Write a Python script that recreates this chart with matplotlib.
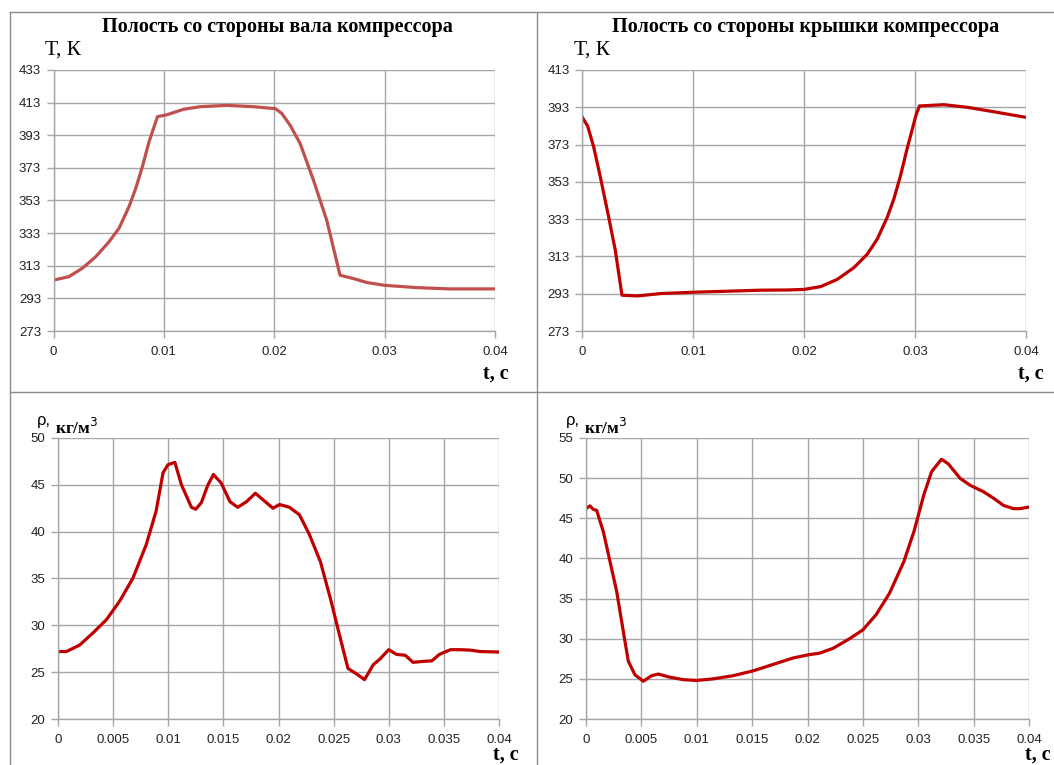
import matplotlib
matplotlib.use("Agg")
import matplotlib.pyplot as plt
from matplotlib.lines import Line2D

W, H = 1054, 765

# top-left: temperature, shaft side
t1 = [0, 0.00139, 0.0026, 0.00382, 0.00503, 0.00593, 0.00684, 0.00745, 0.00805, 0.00866,
      0.00942, 0.0103, 0.01177, 0.01328, 0.0157, 0.0181, 0.0201, 0.02068, 0.02143, 0.02234,
      0.02355, 0.02475, 0.02596, 0.0272, 0.0284, 0.0300, 0.0329, 0.0359, 0.04]
T1 = [304.2, 306.3, 311.4, 318.5, 327.7, 335.9, 349.2, 360.4, 373.7, 389.1,
      404.4, 405.6, 408.9, 410.5, 411.3, 410.5, 409.3, 406.4, 399.2, 388.0,
      365.5, 341.0, 307.2, 305.1, 302.7, 301.0, 299.6, 298.8, 298.8]

# top-right: temperature, cover side
t2 = [0, 0.00051, 0.00105, 0.00165, 0.0024, 0.003, 0.0036, 0.005, 0.0071, 0.0101, 0.0161,
      0.0185, 0.02, 0.0215, 0.023, 0.0245, 0.0257, 0.0266, 0.0275, 0.0281, 0.0287,
      0.02925, 0.0297, 0.0301, 0.0304, 0.0326, 0.0347, 0.0371, 0.04]
T2 = [387.9, 382.9, 371.8, 355.7, 334.2, 316.3, 292.2, 291.8, 293.1, 293.8, 294.9,
      295.0, 295.3, 296.8, 300.7, 307.0, 314.2, 322.3, 334.0, 343.9, 356.4,
      369.9, 380.0, 389.0, 393.7, 394.4, 393.0, 390.6, 387.6]

# bottom-left: density, shaft side
t3 = [0, 0.00076, 0.00197, 0.00318, 0.00439, 0.0056, 0.0068, 0.008, 0.0089, 0.00953, 0.00998,
      0.0106, 0.0112, 0.0121, 0.0125, 0.013, 0.0136, 0.0141, 0.0148, 0.0156, 0.0163,
      0.0171, 0.0179, 0.0186, 0.0195, 0.0201, 0.021, 0.0219, 0.0228, 0.0238, 0.0247,
      0.0256, 0.0263, 0.0271, 0.0278, 0.0286, 0.0292, 0.03, 0.0307, 0.0315, 0.0322,
      0.0331, 0.0339, 0.0346, 0.0356, 0.0365, 0.0374, 0.0383, 0.04]
r3 = [27.2, 27.2, 27.9, 29.2, 30.6, 32.6, 35.05, 38.6, 42.2, 46.3, 47.15,
      47.4, 45.0, 42.6, 42.4, 43.1, 45.0, 46.1, 45.2, 43.2, 42.6,
      43.2, 44.1, 43.4, 42.5, 42.9, 42.6, 41.8, 39.7, 36.8, 32.9,
      28.65, 25.4, 24.8, 24.2, 25.8, 26.4, 27.4, 26.9, 26.8, 26.05,
      26.15, 26.2, 26.9, 27.4, 27.4, 27.35, 27.2, 27.15]

# bottom-right: density, cover side
t4 = [0, 0.00036, 0.00066, 0.00096, 0.00157, 0.00217, 0.00277, 0.00337, 0.00382, 0.00442,
      0.00518, 0.00593, 0.00653, 0.00758, 0.00879, 0.00999, 0.0115, 0.0133, 0.0151, 0.0169,
      0.0187, 0.0201, 0.0211, 0.0223, 0.0238, 0.025, 0.0262, 0.0274, 0.0287, 0.0296,
      0.0305, 0.0312, 0.0321, 0.0327, 0.0338, 0.0347, 0.0359, 0.0368, 0.0377, 0.0386,
      0.0392, 0.04]
r4 = [46.2, 46.55, 46.1, 46.0, 43.3, 39.6, 35.9, 30.9, 27.2, 25.5,
      24.7, 25.4, 25.6, 25.2, 24.9, 24.8, 25.0, 25.4, 26.0, 26.8,
      27.6, 28.0, 28.2, 28.8, 30.0, 31.1, 33.0, 35.65, 39.6, 43.3,
      47.9, 50.8, 52.35, 51.8, 49.95, 49.1, 48.3, 47.5, 46.6, 46.2,
      46.2, 46.4]

titles = ["Полость со стороны вала компрессора", "Полость со стороны крышки компрессора"]
xt_top = [0, 0.01, 0.02, 0.03, 0.04]
xt_bot = [0, 0.005, 0.01, 0.015, 0.02, 0.025, 0.03, 0.035, 0.04]

GRID = "#a6a6a6"
SERIF = "Liberation Serif"
SANS = "Liberation Sans"

fig = plt.figure(figsize=(W / 100, H / 100), dpi=100)


def make_ax(l, r, top, bot):
    return fig.add_axes([l / W, 1 - bot / H, (r - l) / W, (bot - top) / H])


def fmt(v):
    return "0" if v == 0 else ("%g" % v)


def style(ax, xt, ymin, ymax, step):
    ax.set_xlim(0, 0.04)
    ax.set_ylim(ymin, ymax)
    ax.set_xticks(xt)
    ax.set_xticklabels([fmt(v) for v in xt])
    yt = list(range(ymin, ymax + 1, step))
    ax.set_yticks(yt)
    ax.set_yticklabels([str(v) for v in yt])
    ax.grid(True, color=GRID, lw=1)
    for s in ["top", "right"]:
        ax.spines[s].set_visible(False)
    for s in ["left", "bottom"]:
        ax.spines[s].set_color(GRID)
        ax.spines[s].set_linewidth(1)
    ax.tick_params(colors=GRID, length=5, width=1, labelcolor="#222222", labelsize=9.5)
    ax.tick_params(axis="x", pad=6)
    ax.tick_params(axis="y", pad=4)
    for lab in ax.get_xticklabels() + ax.get_yticklabels():
        lab.set_family(SANS)


ax1 = make_ax(53.5, 495, 70, 331)
style(ax1, xt_top, 273, 433, 20)
ax1.plot(t1, T1, color="#c0504d", lw=2.3, solid_joinstyle="round")

ax2 = make_ax(582, 1026, 70, 331)
style(ax2, xt_top, 273, 413, 20)
ax2.plot(t2, T2, color="#c00000", lw=2.3, solid_joinstyle="round")

ax3 = make_ax(58, 499, 438, 719)
style(ax3, xt_bot, 20, 50, 5)
ax3.plot(t3, r3, color="#c00000", lw=2.3, solid_joinstyle="round")

ax4 = make_ax(586, 1029, 438, 719)
style(ax4, xt_bot, 20, 55, 5)
ax4.plot(t4, r4, color="#c00000", lw=2.3, solid_joinstyle="round")

# titles and axis captions
fig.text(277 / W, 1 - 27 / H, titles[0], ha="center", va="center", family=SERIF,
         weight="bold", fontsize=14.5)
fig.text(806 / W, 1 - 27 / H, titles[1], ha="center", va="center", family=SERIF,
         weight="bold", fontsize=14.5)
for x0 in [45, 574]:
    fig.text(x0 / W, 1 - 50 / H, "Т, К", ha="left", va="center", family=SERIF, fontsize=15.5)
for x0, y0 in [(483, 374), (1018, 374), (493, 755), (1025, 755)]:
    fig.text(x0 / W, 1 - y0 / H, "t, с", ha="left", va="center", family=SERIF,
             weight="bold", fontsize=14.5)
for x0 in [37, 566]:
    fig.text(x0 / W, 1 - 420 / H, "ρ,", ha="left", va="center", family=SANS, fontsize=12)
    fig.text((x0 + 18) / W, 1 - 428 / H, "кг/м$^3$", ha="left", va="center", family=SERIF,
             weight="bold", fontsize=12.5)

# frame / separators
BORDER = "#8c8c8c"
fig.add_artist(Line2D([9.5 / W, 1], [1 - 11.5 / H] * 2, color=BORDER, lw=1))
fig.add_artist(Line2D([9.5 / W] * 2, [0, 1 - 11.5 / H], color=BORDER, lw=1))
fig.add_artist(Line2D([537 / W] * 2, [0, 1 - 11.5 / H], color=BORDER, lw=1))
fig.add_artist(Line2D([9.5 / W, 1], [1 - 392 / H] * 2, color=BORDER, lw=1))

fig.savefig("out.png", dpi=100)
